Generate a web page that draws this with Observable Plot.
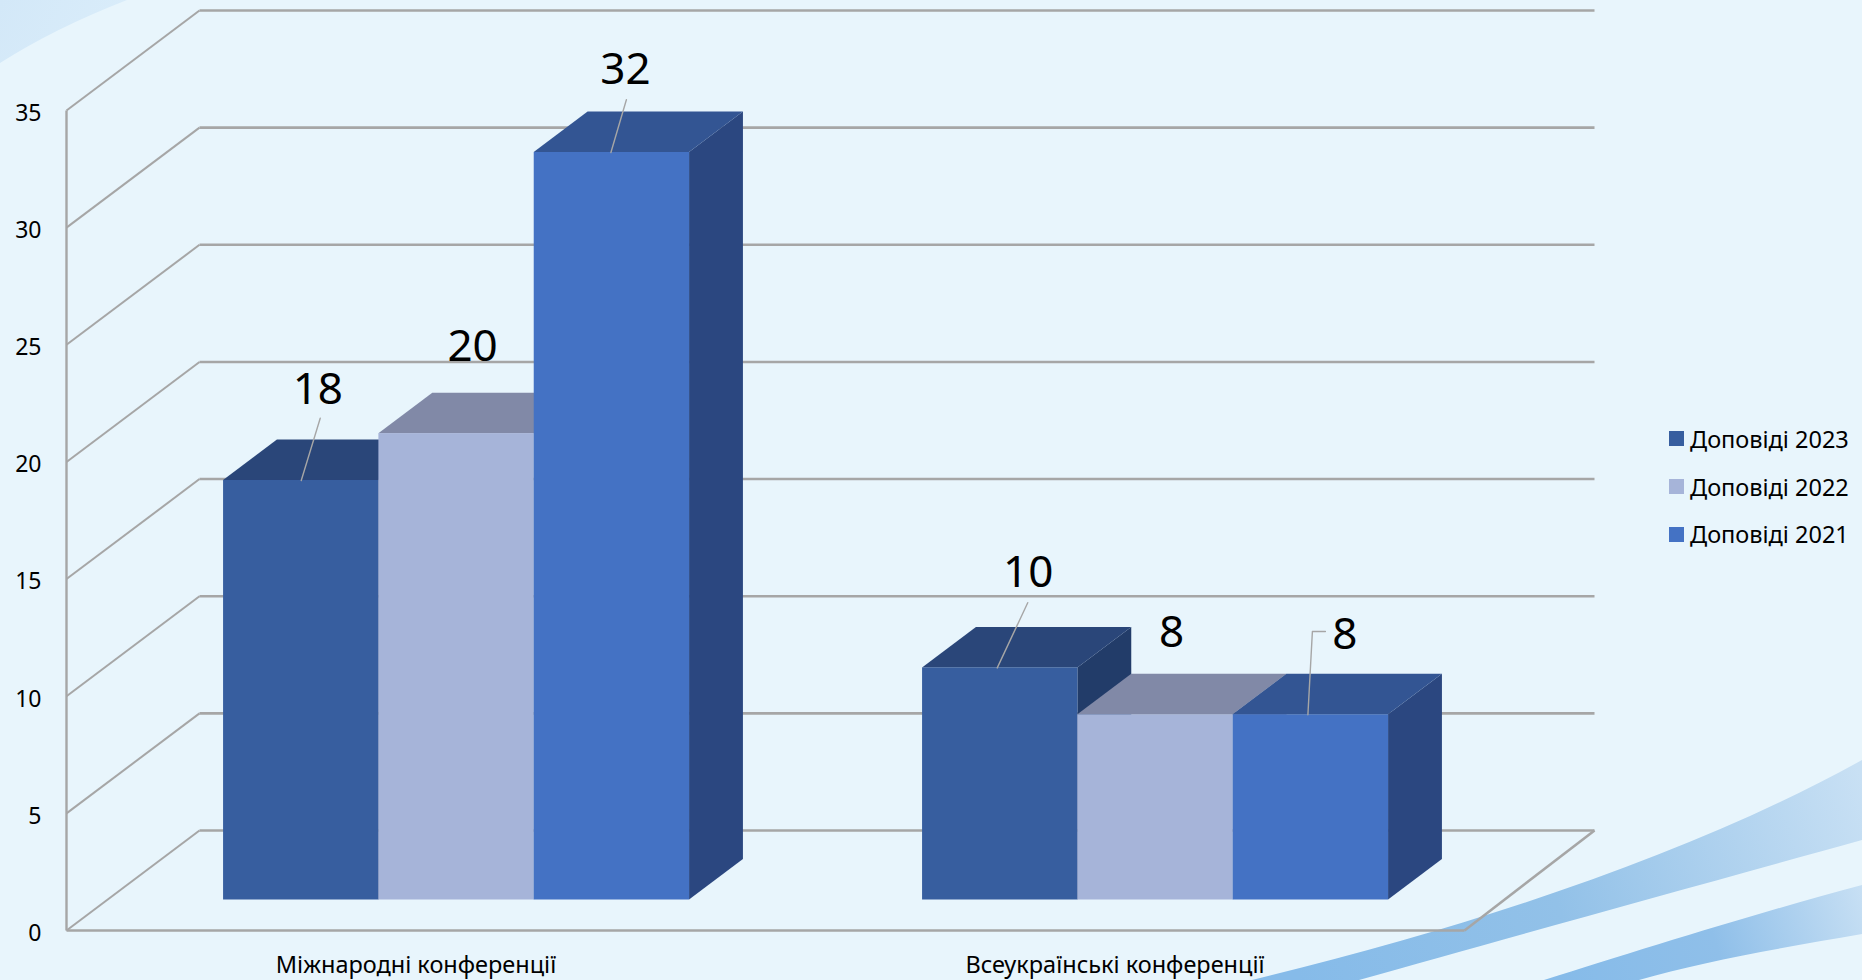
<!DOCTYPE html>
<html lang="uk">
<head>
<meta charset="utf-8">
<script src="https://cdn.jsdelivr.net/npm/d3@7"></script>
<script src="https://cdn.jsdelivr.net/npm/@observablehq/plot@0.6"></script>
<style>
  html, body { margin: 0; padding: 0; background: #E8F5FC; overflow: hidden; }
  #stage { position: relative; width: 1862px; height: 980px; overflow: hidden; font-family: "Noto Sans", sans-serif; }
  #decor { position: absolute; left: 0; top: 0; }
  #chart { position: absolute; left: 0; top: 0; }
  #legend { position: absolute; left: 1669px; top: 415px; font-size: 23.5px; color: #000; }
  #legend div { display: flex; align-items: center; height: 47.8px; white-space: nowrap; }
  #legend i { display: inline-block; width: 15px; height: 15px; margin-right: 6px; }
</style>
</head>
<body>
<div id="stage">
  <svg id="decor" width="1862" height="980" viewBox="0 0 1862 980">
    <defs>
      <linearGradient id="sw" gradientUnits="userSpaceOnUse" x1="1300" y1="980" x2="1862" y2="780">
        <stop offset="0" stop-color="#86BBE9"/>
        <stop offset="0.45" stop-color="#92C1E8"/>
        <stop offset="1" stop-color="#C8E0F4"/>
      </linearGradient>
      <linearGradient id="sw2" gradientUnits="userSpaceOnUse" x1="1560" y1="980" x2="1862" y2="880">
        <stop offset="0" stop-color="#86BBE9"/>
        <stop offset="0.5" stop-color="#8FBFE9"/>
        <stop offset="1" stop-color="#C8E0F4"/>
      </linearGradient>
      <linearGradient id="sw0" gradientUnits="userSpaceOnUse" x1="0" y1="0" x2="127" y2="63">
        <stop offset="0" stop-color="#D3E8F8"/>
        <stop offset="1" stop-color="#DAEDFA"/>
      </linearGradient>
    </defs>
    <path d="M0 0H127Q55 28 0 63Z" fill="url(#sw0)"/>
    <path d="M1252 980C1480 925 1700 850 1862 760V840C1700 885 1500 940 1359 980Z" fill="url(#sw)"/>
    <path d="M1544 980C1640 950 1760 912 1862 885V934C1780 948 1700 962 1639 980Z" fill="url(#sw2)"/>
  </svg>
  <div id="chart"></div>
  <div id="legend"></div>
</div>
<script>
// Data
const categories = ["Міжнародні конференції", "Всеукраїнські конференції"];
const seriesNames = ["Доповіді 2023", "Доповіді 2022", "Доповіді 2021"];
const values2023 = [18, 10];
const values2022 = [20, 8];
const values2021 = [32, 8];
const yTicks = [0, 5, 10, 15, 20, 25, 30, 35];

// Styles
const frontColors = ["#375E9F", "#A6B4D9", "#4472C4"];
const topColors = ["#2A4679", "#8189A7", "#335593"];
const sideColors = ["#223C69", "#757F9F", "#2B4780"];
const gridColor = "#A6A6A6";
const font = '"Noto Sans", sans-serif';

// Oblique projection of depth, expressed in scale units
const pxPerX = 699, pxPerY = 820 / 35;
const DX = 133 / pxPerX, DY = 100 / pxPerY, DXR = 130 / pxPerX;
const D0 = 0.305, D1 = 0.71;
const barW = 1 / 4.5, gap = 0.75 / 4.5;
const topInset = 2.2 / pxPerY;

const series = [values2023, values2022, values2021];
const bars = series.flatMap((vals, s) => vals.map((v, c) => ({
  s, c, v, xl: c + gap + s * barW, xr: c + gap + (s + 1) * barW
})));
bars.sort((a, b) => a.c - b.c || a.s - b.s);

// Label placement relative to each bar's top centre, in pixels
const labelOffsets = {
  "0,0": [16.6, -74.5], "0,1": [16, -70.8], "0,2": [13.5, -65.8],
  "1,0": [28, -78.8], "1,1": [16, -66], "1,2": [34, -64]
};
const leaders = {
  "0,0": [[0, 2.2], [19, -60]],
  "0,2": [[-1, 2.2], [14.5, -50.5]],
  "1,0": [[-3, 2.2], [27.5, -63]],
  "1,2": [[-3, 2.2], [1.5, -81], [14.5, -81]]
};

const wallLinks = yTicks.map(v => ({x1: 0, y1: v, x2: DX, y2: v + DY}));
const backLinks = yTicks.map(v => ({x1: DX, y1: v + DY, x2: 2 + DXR, y2: v + DY}));

const barMarks = bars.flatMap(b => {
  const cx = D0 * DX, bx = D1 * DX, cy = D0 * DY, by = D1 * DY;
  const top = b.v - topInset;
  return [
    Plot.areaY([
      {x: b.xr + cx, y1: cy, y2: top + cy},
      {x: b.xr + bx, y1: by, y2: top + by}
    ], {x: "x", y1: "y1", y2: "y2", fill: sideColors[b.s]}),
    Plot.areaX([
      {y: top + cy, x1: b.xl + cx, x2: b.xr + cx},
      {y: top + by, x1: b.xl + bx, x2: b.xr + bx}
    ], {y: "y", x1: "x1", x2: "x2", fill: topColors[b.s]}),
    Plot.rect([b], {
      x1: d => d.xl + cx, x2: d => d.xr + cx,
      y1: cy, y2: top + cy, fill: frontColors[b.s]
    })
  ];
});

const labelMarks = bars.flatMap(b => {
  const key = b.c + "," + b.s;
  const centre = {x: (b.xl + b.xr) / 2 + D0 * DX, y: b.v + D0 * DY};
  const [dx, dy] = labelOffsets[key];
  const out = [];
  if (leaders[key]) {
    out.push(Plot.line(leaders[key].map(([px, py]) => ({
      x: centre.x + px / pxPerX, y: centre.y - py / pxPerY
    })), {x: "x", y: "y", stroke: gridColor, strokeWidth: 1.4}));
  }
  out.push(Plot.text([b], {
    x: () => centre.x, y: () => centre.y, text: d => String(d.v),
    dx, dy, lineAnchor: "bottom", textAnchor: "middle",
    fontFamily: '"Liberation Sans Narrow", "Noto Sans", sans-serif', fontSize: 44, fill: "#000"
  }));
  return out;
});

const chart = Plot.plot({
  width: 1862, height: 980,
  marginLeft: 66, marginRight: 398, marginTop: 110, marginBottom: 50,
  x: {domain: [0, 2]},
  y: {domain: [0, 35]},
  style: {background: "transparent", fontFamily: font, overflow: "visible"},
  marks: [
    Plot.link(backLinks, {x1: "x1", y1: "y1", x2: "x2", y2: "y2", stroke: gridColor, strokeWidth: 2.6}),
    Plot.link(wallLinks, {x1: "x1", y1: "y1", x2: "x2", y2: "y2", stroke: gridColor, strokeWidth: 2}),
    Plot.link([{x1: 0, y1: 0, x2: 0, y2: 35}], {x1: "x1", y1: "y1", x2: "x2", y2: "y2", stroke: gridColor, strokeWidth: 2.4}),
    Plot.link([{x1: 0, y1: 0, x2: 2, y2: 0}, {x1: 2, y1: 0, x2: 2 + DXR, y2: DY}], {x1: "x1", y1: "y1", x2: "x2", y2: "y2", stroke: gridColor, strokeWidth: 2.6}),
    Plot.axisY({ticks: yTicks, tickSize: 0, tickPadding: 25, fontSize: 23, label: null, dy: 3, fill: "#000", tickFormat: d => String(d)}),
    Plot.axisX({ticks: [0.5, 1.5], tickSize: 0, tickPadding: 26, fontSize: 23.5, label: null, fill: "#000", tickFormat: v => categories[Math.floor(v)]}),
    ...barMarks,
    ...labelMarks
  ]
});
document.getElementById("chart").appendChild(chart);

const legend = document.getElementById("legend");
seriesNames.forEach((name, i) => {
  const row = document.createElement("div");
  const sw = document.createElement("i");
  sw.style.background = frontColors[i];
  row.appendChild(sw);
  row.appendChild(document.createTextNode(name));
  legend.appendChild(row);
});
</script>
</body>
</html>
